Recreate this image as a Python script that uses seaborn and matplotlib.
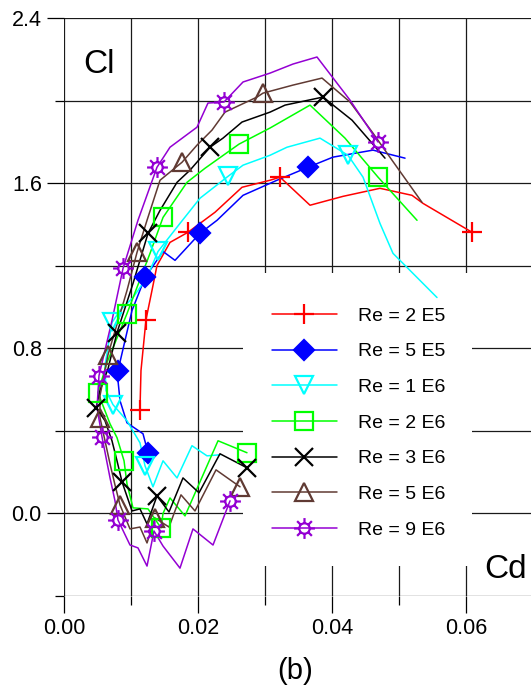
import numpy as np
import pandas as pd
import matplotlib
matplotlib.use("Agg")
import matplotlib.pyplot as plt
from matplotlib.lines import Line2D
from matplotlib.patches import Rectangle
from matplotlib.path import Path
from matplotlib.ticker import MultipleLocator, FormatStrFormatter
import seaborn as sns

# ---------------- data (Cd, Cl) ----------------
labels = ["Re = 2 E5", "Re = 5 E5", "Re = 1 E6", "Re = 2 E6", "Re = 3 E6", "Re = 5 E6", "Re = 9 E6"]
colors = ["#FF0000", "#0000FF", "#00FFFF", "#00FF00", "#000000", "#603A33", "#9400D3"]

cd_2e5 = [0.01134, 0.01149, 0.01224, 0.01313, 0.01388, 0.01582, 0.01851, 0.02254, 0.02657,
          0.03075, 0.03224, 0.03672, 0.04164, 0.04716, 0.05194, 0.05358, 0.06090]
cl_2e5 = [0.502, 0.692, 0.939, 1.080, 1.201, 1.313, 1.362, 1.459, 1.580,
          1.614, 1.629, 1.493, 1.536, 1.575, 1.541, 1.502, 1.362]
mk_2e5 = [0, 2, 6, 10, 16]

cd_5e5 = [0.01254, 0.01179, 0.00940, 0.00836, 0.00806, 0.00806, 0.01015, 0.01209, 0.01478,
          0.01657, 0.02030, 0.02284, 0.02672, 0.03179, 0.03642, 0.04015, 0.04612, 0.05090]
cl_5e5 = [0.294, 0.386, 0.439, 0.546, 0.643, 0.692, 0.983, 1.143, 1.269,
          1.226, 1.357, 1.420, 1.541, 1.614, 1.677, 1.726, 1.760, 1.721]
mk_5e5 = [0, 5, 7, 10, 14]

cd_1e6 = [0.02328, 0.02134, 0.01910, 0.01687, 0.01478, 0.01328, 0.01209, 0.01134, 0.00940,
          0.00731, 0.00627, 0.00612, 0.00716, 0.00836, 0.01030, 0.01239, 0.01403, 0.01731,
          0.02030, 0.02448, 0.02672, 0.03075, 0.03328, 0.03821, 0.04239, 0.04463, 0.04716,
          0.04910, 0.05567]
cl_1e6 = [0.284, 0.279, 0.328, 0.172, 0.255, 0.129, 0.231, 0.342, 0.449,
          0.527, 0.595, 0.716, 0.925, 0.983, 1.046, 1.143, 1.269, 1.405,
          1.527, 1.633, 1.687, 1.735, 1.774, 1.818, 1.735, 1.629, 1.405,
          1.260, 1.046]
mk_1e6 = [6, 9, 12, 16, 19, 24]

cd_2e6 = [0.02731, 0.02299, 0.01806, 0.01582, 0.01478, 0.01448, 0.01254, 0.01030, 0.00940,
          0.00896, 0.00791, 0.00687, 0.00507, 0.00642, 0.00940, 0.01284, 0.01478, 0.01836,
          0.02104, 0.02612, 0.03075, 0.03672, 0.04194, 0.04687, 0.05269]
cl_2e6 = [0.294, 0.352, -0.012, 0.075, 0.000, -0.070, 0.022, 0.027, 0.143,
          0.255, 0.367, 0.434, 0.585, 0.731, 0.968, 1.260, 1.434, 1.604,
          1.672, 1.789, 1.867, 1.978, 1.818, 1.629, 1.420]
mk_2e6 = [0, 5, 9, 12, 14, 16, 19, 23]

cd_3e6 = [0.02731, 0.02328, 0.02015, 0.01776, 0.01567, 0.01388, 0.01239, 0.01134, 0.01015,
          0.00866, 0.00791, 0.00716, 0.00612, 0.00478, 0.00537, 0.00657, 0.00791, 0.01030,
          0.01254, 0.01433, 0.01687, 0.01881, 0.02179, 0.02373, 0.02657, 0.03075, 0.03299,
          0.03866, 0.04299, 0.04791]
cl_3e6 = [0.221, 0.289, 0.100, 0.172, 0.007, 0.085, -0.051, 0.022, 0.012,
          0.153, 0.255, 0.352, 0.449, 0.512, 0.595, 0.701, 0.876, 1.114,
          1.357, 1.468, 1.604, 1.663, 1.774, 1.818, 1.896, 1.944, 1.978,
          2.017, 1.905, 1.721]
mk_3e6 = [0, 5, 9, 13, 16, 18, 22, 27]

cd_5e6 = [0.02627, 0.02269, 0.01955, 0.01746, 0.01567, 0.01358, 0.01239, 0.01134, 0.00985,
          0.00836, 0.00761, 0.00687, 0.00537, 0.00537, 0.00657, 0.00940, 0.01090, 0.01239,
          0.01433, 0.01761, 0.01985, 0.02209, 0.02403, 0.02881, 0.02970, 0.03418, 0.03851,
          0.04269, 0.04612, 0.04896, 0.05343]
cl_5e6 = [0.129, 0.211, 0.012, 0.090, -0.066, -0.022, -0.143, -0.066, -0.075,
          0.041, 0.138, 0.240, 0.464, 0.570, 0.769, 1.080, 1.265, 1.420,
          1.614, 1.701, 1.784, 1.857, 1.944, 2.017, 2.036, 2.075, 2.109,
          1.993, 1.842, 1.711, 1.507]
mk_5e6 = [0, 5, 9, 12, 14, 16, 19, 24]

cd_9e6 = [0.02478, 0.02224, 0.01925, 0.01731, 0.01478, 0.01343, 0.01239, 0.01104, 0.00985,
          0.00806, 0.00761, 0.00687, 0.00567, 0.00493, 0.00522, 0.00716, 0.00881, 0.01104,
          0.01388, 0.01582, 0.01985, 0.02149, 0.02388, 0.02672, 0.03075, 0.03418, 0.03776,
          0.04269, 0.04687]
cl_9e6 = [0.061, -0.153, -0.075, -0.265, -0.158, -0.085, -0.255, -0.167, -0.153,
          -0.032, 0.061, 0.172, 0.371, 0.512, 0.667, 0.934, 1.187, 1.420,
          1.677, 1.774, 1.871, 1.988, 1.993, 2.090, 2.133, 2.177, 2.211,
          2.002, 1.799]
mk_9e6 = [0, 5, 9, 12, 14, 16, 18, 22, 28]

x_ticks = [0.00, 0.02, 0.04, 0.06]
y_ticks = [0.0, 0.8, 1.6, 2.4]

# ---------------- style ----------------
sns.set_style("white")
plt.rcParams["font.family"] = ["Liberation Sans", "DejaVu Sans"]
plt.rcParams["text.color"] = "black"
plt.rcParams["xtick.color"] = "black"
plt.rcParams["ytick.color"] = "black"

# sun-like marker: hollow circle with 8 rays
r0 = 0.5
circ = Path.circle((0, 0), r0)
verts, codes = [], []
for a in np.deg2rad(np.arange(0, 360, 45)):
    verts += [(r0 * np.cos(a), r0 * np.sin(a)), (np.cos(a), np.sin(a))]
    codes += [Path.MOVETO, Path.LINETO]
sun = Path.make_compound_path(circ, Path(verts, codes))

series = [
    (cd_2e5, cl_2e5, mk_2e5, "+", 15, "none"),
    (cd_5e5, cl_5e5, mk_5e5, "D", 10.5, "fill"),
    (cd_1e6, cl_1e6, mk_1e6, "v", 13, "none"),
    (cd_2e6, cl_2e6, mk_2e6, "s", 12.5, "none"),
    (cd_3e6, cl_3e6, mk_3e6, "x", 13, "none"),
    (cd_5e6, cl_5e6, mk_5e6, "^", 13, "none"),
    (cd_9e6, cl_9e6, mk_9e6, sun, 15, "none"),
]

fig = plt.figure(figsize=(5.31, 6.90), dpi=100)
ax = fig.add_axes([64 / 531, 94 / 690, 467 / 531, 578 / 690])

handles = []
for (cd, cl, mk, marker, ms, fill), col, lab in zip(series, colors, labels):
    df = pd.DataFrame({"Cd": cd, "Cl": cl})
    sns.lineplot(data=df, x="Cd", y="Cl", sort=False, estimator=None, color=col,
                 lw=1.1, ax=ax, zorder=3, legend=False)
    mfc = col if fill == "fill" else "none"
    ax.plot(df["Cd"].iloc[mk], df["Cl"].iloc[mk], ls="none", marker=marker, ms=ms,
            mfc=mfc, mec=col, mew=1.6, zorder=4)
    handles.append(Line2D([], [], color=col, lw=1.1, marker=marker, ms=ms,
                          mfc=mfc, mec=col, mew=1.6))

ax.set_xlim(0, 0.0697)
ax.set_ylim(-0.4, 2.4)
ax.xaxis.set_major_locator(MultipleLocator(0.02))
ax.xaxis.set_minor_locator(MultipleLocator(0.01))
ax.yaxis.set_major_locator(MultipleLocator(0.8))
ax.yaxis.set_minor_locator(MultipleLocator(0.4))
ax.set_xticks(x_ticks)
ax.set_yticks(y_ticks)
ax.xaxis.set_major_formatter(FormatStrFormatter("%.2f"))
ax.yaxis.set_major_formatter(FormatStrFormatter("%.1f"))
ax.tick_params(which="major", direction="out", length=12, width=0.9, color="black",
               labelcolor="black", labelsize=15.5, pad=4, bottom=True, left=True)
ax.tick_params(which="minor", direction="out", length=6.5, width=0.9, color="black",
               bottom=True, left=True)
ax.set_axisbelow(True)
ax.grid(True, which="both", color="#1a1a1a", lw=0.9)
for s in ax.spines.values():
    s.set_visible(False)
ax.set_xlabel("")
ax.set_ylabel("")

# white legend area masking the grid
ax.add_patch(Rectangle((0.0267, -0.255), 0.0342, 1.418, facecolor="white",
                       edgecolor="none", zorder=1))

leg = ax.legend(handles, labels, loc="upper left", bbox_to_anchor=(0.445, 0.500),
                frameon=False, fontsize=14, handlelength=3.35, handletextpad=1.1,
                labelspacing=0.93, borderpad=0, borderaxespad=0, labelcolor="black")
leg.set_zorder(6)

fig.text(83 / 531, 1 - 73 / 690, "Cl", fontsize=24, va="baseline", ha="left", color="black")
fig.text(484 / 531, 1 - 578 / 690, "Cd", fontsize=24, va="baseline", ha="left", color="black")
fig.text(295 / 531, 1 - 671 / 690, "(b)", fontsize=21, va="center", ha="center", color="black")

fig.savefig("out.png", dpi=100)
